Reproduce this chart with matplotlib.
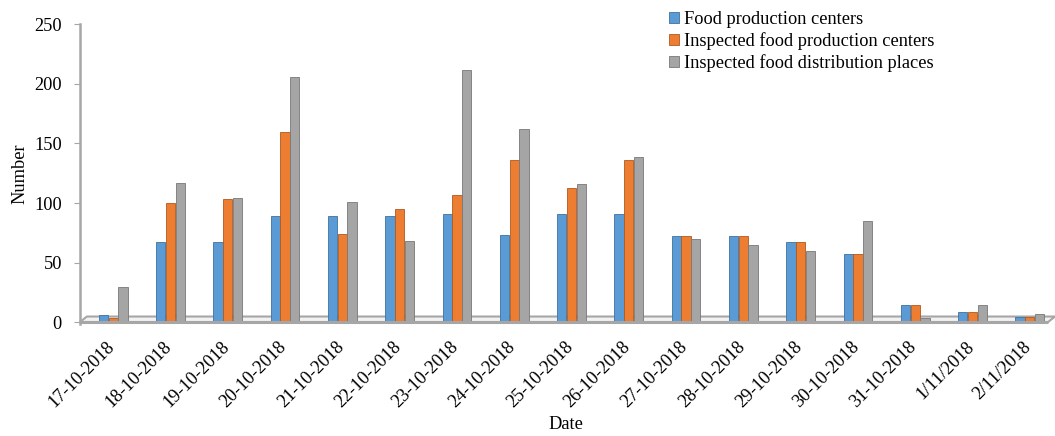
import numpy as np
import matplotlib.pyplot as plt
import matplotlib.transforms as mtransforms
from matplotlib.patches import Polygon

dates = ["17-10-2018", "18-10-2018", "19-10-2018", "20-10-2018", "21-10-2018",
         "22-10-2018", "23-10-2018", "24-10-2018", "25-10-2018", "26-10-2018",
         "27-10-2018", "28-10-2018", "29-10-2018", "30-10-2018", "31-10-2018",
         "1/11/2018", "2/11/2018"]
food_centers      = [6, 67, 67, 89, 89, 89, 91, 73, 91, 91, 72, 72, 67, 57, 14, 8, 4]
inspected_centers = [3, 100, 103, 160, 74, 95, 107, 136, 113, 136, 72, 72, 67, 57, 14, 8, 4]
inspected_places  = [29, 117, 104, 206, 101, 68, 212, 162, 116, 139, 70, 65, 60, 85, 3, 14, 7]

LABELS = ["Food production centers",
          "Inspected food production centers",
          "Inspected food distribution places"]
COLORS = ["#5B9BD5", "#ED7D31", "#A5A5A5"]
EDGES  = ["#41719C", "#AE5A21", "#787878"]

FS = 13.2
plt.rcParams["font.family"] = ["Liberation Serif", "DejaVu Serif"]

fig = plt.figure(figsize=(10.55, 4.36), dpi=100)
ax = fig.add_axes([80 / 1055, 1 - 322 / 436, 975 / 1055, (322 - 24.5) / 436])

x = np.arange(len(dates))
w = 0.17
series = [food_centers, inspected_centers, inspected_places]

# 3D-ish floor slab
floor = Polygon([(-0.56, 0), (16.34, 0), (16.46, 4.6), (-0.44, 4.6)],
                closed=True, facecolor="#F2F2F2", edgecolor="#A6A6A6",
                linewidth=1.5, zorder=1, clip_on=False)
ax.add_patch(floor)

for i, (vals, col, ec, lab) in enumerate(zip(series, COLORS, EDGES, LABELS)):
    ax.bar(x + (i - 1) * w + 0.02, vals, width=w * 0.95, color=col,
           edgecolor=ec, linewidth=0.6, label=lab, zorder=2)

ax.plot([-0.56, 16.34], [0, 0], color="#A6A6A6", linewidth=2.2,
        zorder=3, clip_on=False, solid_capstyle="butt")

ax.set_xlim(-0.56, 16.46)
ax.set_ylim(0, 250)
ax.set_yticks([0, 50, 100, 150, 200, 250])
ax.set_xticks(x)
ax.set_xticklabels(dates, rotation=45, ha="right", va="center",
                   rotation_mode="anchor", fontsize=FS)
shift = mtransforms.ScaledTranslation(-6 / 100, 0, fig.dpi_scale_trans)
for lbl in ax.get_xticklabels():
    lbl.set_transform(lbl.get_transform() + shift)
ax.tick_params(axis="x", length=0, pad=16)
ax.tick_params(axis="y", length=4, color="#A6A6A6", labelsize=FS, pad=9)

for s in ["top", "right", "bottom"]:
    ax.spines[s].set_visible(False)
ax.spines["left"].set_color("#A6A6A6")
ax.spines["left"].set_linewidth(1.8)
ax.spines["left"].set_bounds(-2, 250)

ax.set_ylabel("Number", fontsize=FS, labelpad=4)
fig.text(566 / 1055, 1 - 424 / 436, "Date", ha="center", va="center",
         fontsize=FS)

fig.legend(loc="upper left", bbox_to_anchor=(669 / 1055, 1 - 11 / 436),
           frameon=False, fontsize=FS, handlelength=0.55, handleheight=0.55,
           handletextpad=0.25, labelspacing=0.22, borderpad=0,
           borderaxespad=0)

fig.savefig("out.png", dpi=100)
